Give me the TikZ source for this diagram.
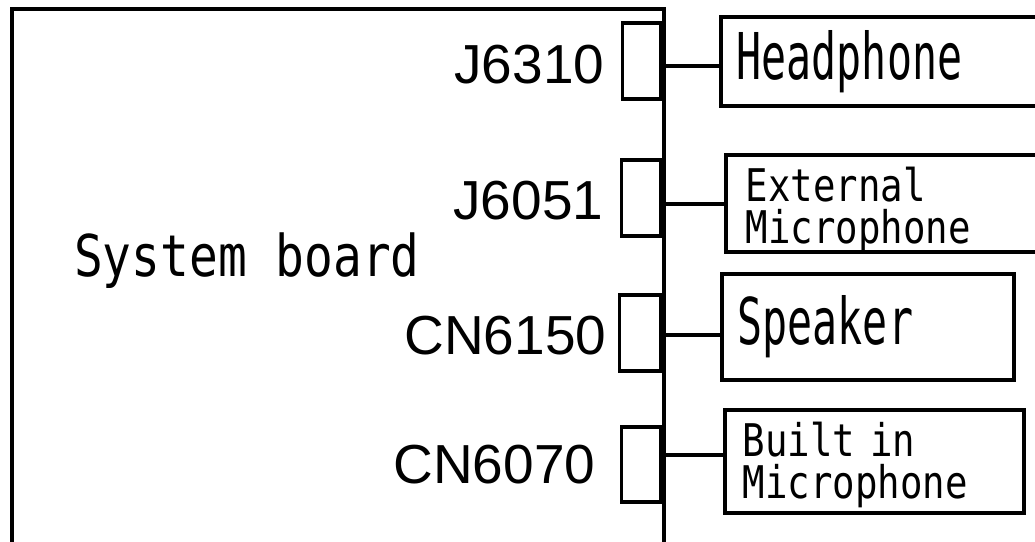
\documentclass[tikz,border=0pt]{standalone}
\usepackage{fontspec}
\usetikzlibrary{positioning,calc}
\newfontfamily\arialfont{Liberation Sans}
\newfontfamily\gothicfont[FakeStretch=0.83]{DejaVu Sans Mono}
\newfontfamily\gothicnarrowfont[FakeStretch=0.645]{DejaVu Sans Mono}
\newlength{\du}
\setlength{\du}{1pt}
\tikzset{
  edge/.style={line width=3.5\du},
  jackbox/.style={draw, edge, minimum width=38\du, minimum height=76\du, anchor=east, inner sep=0pt},
  jacklabel/.style={inner sep=0pt, font=\arialfont\fontsize{55}{60}\selectfont},
  devbox/.style={draw, edge, anchor=north west, align=left, inner ysep=0pt},
  bigname/.style={font=\gothicnarrowfont\fontsize{64.5}{70}\selectfont},
  smallname/.style={font=\gothicfont\fontsize{45}{42}\selectfont},
}
\begin{document}
\begin{tikzpicture}[x=\du, y=-\du]
\clip (0,0) rectangle (1035,541);
% board outline runs off the bottom
\node[draw, edge, anchor=north west, minimum width=652\du, minimum height=600\du, inner sep=0pt] (board) at (10,7) {};
\node[anchor=base west, inner sep=0pt, font=\gothicfont\fontsize{57.6}{60}\selectfont] (boardname) at (74,276) {System board};
% jacks
\node[jackbox] (j6310) at (662,61) {};
\node[jackbox, minimum width=39\du] (j6051) at (662,198) {};
\node[jackbox, minimum width=41\du] (cn6150) at (662,333) {};
\node[jackbox, minimum width=39\du, minimum height=75\du] (cn6070) at (662,464.5) {};
\node[jacklabel, left=16\du of j6310, yshift=-4\du] (j6310label) {J6310};
\node[jacklabel, left=16\du of j6051, yshift=-3\du] (j6051label) {J6051};
\node[jacklabel, left=11\du of cn6150, yshift=-3\du] (cn6150label) {CN6150};
\node[jacklabel, left=24\du of cn6070] (cn6070label) {CN6070};
% devices
\node[devbox, bigname, inner xsep=16\du, text width=299\du, minimum height=89\du] (hp) at (719,15) {Headphone};
\node[devbox, smallname, inner xsep=20\du, text width=286\du, minimum height=97\du, text depth=37\du] (extmic) at (724,153) {External\\Microphone};
\node[devbox, bigname, inner xsep=16\du, text width=260\du, minimum height=106\du] (spk) at (720,272) {Speaker};
\node[devbox, smallname, inner xsep=18\du, text width=263\du, minimum height=103\du, text depth=43\du] (bim) at (723,408) {Built in\\Microphone};
% wires
\coordinate (hpwire) at ($(hp.west)+(0,4.5)$);
\coordinate (extmicwire) at ($(extmic.west)+(0,0.5)$);
\coordinate (spkwire) at ($(spk.west)+(0,8)$);
\coordinate (bimwire) at ($(bim.west)+(0,-6.5)$);
\draw[edge] (hpwire) -- (hpwire -| board.east);
\draw[edge] (extmicwire) -- (extmicwire -| board.east);
\draw[edge] (spkwire) -- (spkwire -| board.east);
\draw[edge] (bimwire) -- (bimwire -| board.east);
\end{tikzpicture}
\end{document}
